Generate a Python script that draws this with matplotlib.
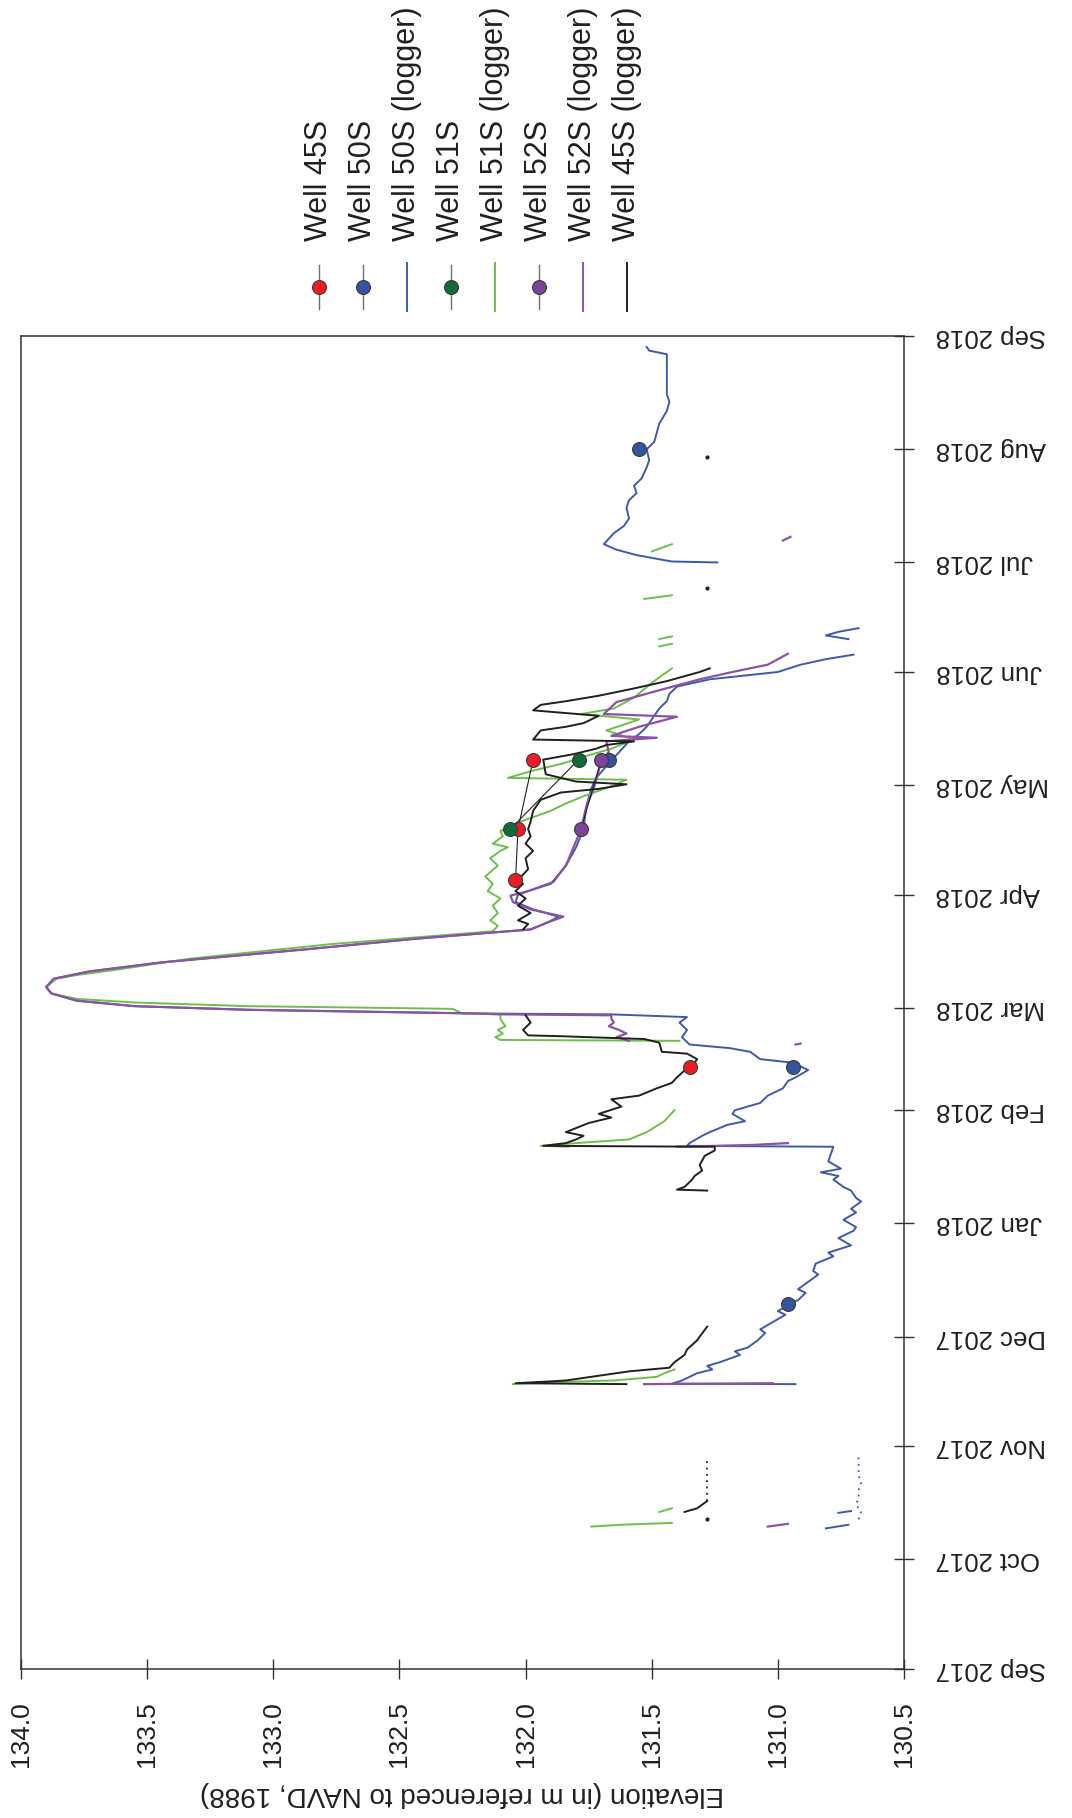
"""Well water levels, Sep 2017 - Sep 2018 (figure drawn rotated, as in the report page)."""

import numpy as np
import pandas as pd
import matplotlib

matplotlib.use("Agg")
import matplotlib.pyplot as plt
from matplotlib.lines import Line2D

plt.rcParams["font.family"] = ["Liberation Sans", "DejaVu Sans"]

# ---- logger records (None = gap in the record) ----
log50_t = ["2017-10-09 12:00", "2017-10-10 12:00", None,
           "2017-10-13 18:00", "2017-10-14 06:00", None,
           "2017-11-18 00:00", "2017-11-18 03:00", "2017-11-19", "2017-11-21", "2017-11-22", "2017-11-23",
           "2017-11-24", "2017-11-25", "2017-11-26", "2017-11-27", "2017-11-28", "2017-11-30", "2017-12-02",
           "2017-12-03", "2017-12-05", "2017-12-07", "2017-12-08", "2017-12-10", "2017-12-11", "2017-12-13",
           "2017-12-14", "2017-12-16", "2017-12-18", "2017-12-19", "2017-12-21", "2017-12-23", "2017-12-24",
           "2017-12-26", "2017-12-28", "2017-12-30", "2017-12-31", "2018-01-02", "2018-01-04", "2018-01-05",
           "2018-01-07", "2018-01-08", "2018-01-10", "2018-01-11", "2018-01-13", "2018-01-14", "2018-01-15",
           "2018-01-16", "2018-01-18", "2018-01-20", "2018-01-22 00:00", "2018-01-22 06:00", "2018-01-23",
           "2018-01-25", "2018-01-26", "2018-01-28", "2018-01-29", "2018-01-31", "2018-02-01", "2018-02-03",
           "2018-02-05", "2018-02-07", "2018-02-09", "2018-02-10", "2018-02-12", "2018-02-14", "2018-02-15",
           "2018-02-17", "2018-02-18", "2018-02-19", "2018-02-21", "2018-02-23", "2018-02-25", "2018-02-26 12:00",
           "2018-02-27 06:00", "2018-02-27 12:00", "2018-02-28 12:00", "2018-03-01 12:00", "2018-03-03",
           "2018-03-05", "2018-03-06 18:00", "2018-03-09", "2018-03-11", "2018-03-13 12:00", "2018-03-17",
           "2018-03-20", "2018-03-22 12:00", "2018-03-24 12:00", "2018-03-26", "2018-03-28", "2018-03-30",
           "2018-04-01", "2018-04-02", "2018-04-04", "2018-04-09", "2018-04-14", "2018-04-19", "2018-04-25",
           "2018-04-30", "2018-05-03", "2018-05-07", "2018-05-10", "2018-05-13", "2018-05-15", "2018-05-17",
           "2018-05-19", "2018-05-22", "2018-05-24", "2018-05-26", "2018-05-28", "2018-05-30", "2018-06-01",
           "2018-06-03", "2018-06-04 12:00", "2018-06-05 18:00", None,
           "2018-06-10", "2018-06-11", "2018-06-12", "2018-06-13", None,
           "2018-07-01 00:00", "2018-07-01 06:00", "2018-07-03", "2018-07-04 12:00", "2018-07-06",
           "2018-07-07 12:00", "2018-07-09", "2018-07-11", "2018-07-13", "2018-07-16", "2018-07-18",
           "2018-07-20", "2018-07-22", "2018-07-24", "2018-07-27", "2018-07-29", "2018-08-01", "2018-08-03",
           "2018-08-05 12:00", "2018-08-08", "2018-08-11 12:00", "2018-08-14", "2018-08-16", "2018-08-20",
           "2018-08-23", "2018-08-27", "2018-08-28", "2018-08-29"]
log50_v = [130.81, 130.72, None,
           130.76, 130.71, None,
           130.93, 131.42, 131.38, 131.32, 131.26, 131.28,
           131.23, 131.19, 131.15, 131.17, 131.12, 131.08, 131.05,
           131.07, 131.02, 130.97, 131.00, 130.95, 130.92, 130.89,
           130.92, 130.88, 130.84, 130.86, 130.85, 130.78, 130.80,
           130.71, 130.76, 130.70, 130.69, 130.74, 130.69, 130.71,
           130.67, 130.69, 130.71, 130.74, 130.78, 130.76, 130.83,
           130.75, 130.80, 130.79, 130.78, 131.36, 131.35,
           131.30, 131.27, 131.20, 131.13, 131.18, 131.17, 131.07,
           131.04, 130.98, 130.96, 130.93, 130.88, 130.94, 131.07,
           131.11, 131.19, 131.35, 131.38, 131.36, 131.39, 131.36,
           131.66, 132.20, 133.10, 133.55, 133.78,
           133.88, 133.90, 133.87, 133.73, 133.44, 132.88,
           132.43, 131.98, 131.91, 131.87, 131.97, 132.04,
           132.03, 131.99, 131.90, 131.84, 131.80, 131.77, 131.76,
           131.74, 131.72, 131.67, 131.63, 131.59, 131.55, 131.52,
           131.50, 131.47, 131.44, 131.43, 131.40, 131.27, 131.00,
           130.91, 130.81, 130.70, None,
           130.72, 130.81, 130.76, 130.68, None,
           131.24, 131.42, 131.56, 131.64, 131.69,
           131.67, 131.65, 131.61, 131.59, 131.60, 131.59,
           131.56, 131.57, 131.54, 131.52, 131.51, 131.52, 131.49,
           131.48, 131.47, 131.44, 131.43, 131.44, 131.44,
           131.44, 131.44, 131.51, 131.52]
log50_dot_t = ["2017-10-12", "2017-10-14", "2017-10-16", "2017-10-18", "2017-10-20", "2017-10-22",
               "2017-10-24", "2017-10-26", "2017-10-29"]
log50_dot_v = [130.68, 130.67, 130.69, 130.68, 130.68, 130.67, 130.68, 130.68, 130.68]

log51_t = ["2017-10-10 00:00", "2017-10-10 12:00", "2017-10-11", None,
           "2017-10-14", "2017-10-15", None,
           "2017-11-18 00:00", "2017-11-18 12:00", "2017-11-19", "2017-11-20", "2017-11-21", "2017-11-22", None,
           "2018-01-22 00:00", "2018-01-22 06:00", "2018-01-23", "2018-01-24", "2018-01-26", "2018-01-29",
           "2018-02-01", None,
           "2018-02-20 00:00", "2018-02-20 06:00", "2018-02-21", "2018-02-22", "2018-02-23", "2018-02-24",
           "2018-02-26", "2018-02-27 06:00", "2018-02-27 12:00", "2018-02-28 18:00", "2018-03-01 00:00",
           "2018-03-01 12:00", "2018-03-02 12:00", "2018-03-03 12:00", "2018-03-05", "2018-03-06 18:00",
           "2018-03-09", "2018-03-10", "2018-03-11 12:00", "2018-03-14 12:00", "2018-03-18 12:00", "2018-03-22",
           "2018-03-23 12:00", "2018-03-25", "2018-03-27", "2018-03-29", "2018-03-31", "2018-04-02",
           "2018-04-04", "2018-04-06", "2018-04-09", "2018-04-11", "2018-04-13", "2018-04-14", "2018-04-15",
           "2018-04-17", "2018-04-18 12:00", "2018-04-20", "2018-04-21", "2018-04-24", "2018-04-26",
           "2018-04-28", "2018-05-01", "2018-05-02 12:00", "2018-05-03 00:00", "2018-05-05", "2018-05-07",
           "2018-05-09", "2018-05-11", "2018-05-13 12:00", "2018-05-16", "2018-05-19", "2018-05-20 12:00",
           "2018-05-22", "2018-05-25", "2018-05-29", "2018-06-02", None,
           "2018-06-08 00:00", "2018-06-08 18:00", None,
           "2018-06-10 00:00", "2018-06-10 18:00", None,
           "2018-06-21", "2018-06-22", None,
           "2018-07-04", "2018-07-06"]
log51_v = [131.74, 131.62, 131.42, None,
           131.47, 131.42, None,
           132.05, 131.92, 131.65, 131.48, 131.45, 131.41, None,
           131.83, 131.94, 131.80, 131.59, 131.52, 131.45,
           131.41, None,
           131.39, 132.10, 132.12, 132.09, 132.11, 132.08,
           132.10, 132.10, 132.25, 132.29, 132.54,
           133.10, 133.55, 133.78, 133.88, 133.90,
           133.86, 133.78, 133.62, 133.33, 132.77, 132.13,
           132.11, 132.14, 132.11, 132.13, 132.10, 132.15,
           132.13, 132.16, 132.11, 132.14, 132.10, 132.07, 132.13,
           132.09, 132.10, 132.04, 132.02, 131.90, 131.84,
           131.77, 131.65, 131.60, 132.07, 131.97, 131.85,
           131.76, 131.66, 131.57, 131.68, 131.55, 131.78,
           131.65, 131.57, 131.50, 131.42, None,
           131.47, 131.42, None,
           131.47, 131.42, None,
           131.53, 131.42, None,
           131.50, 131.42]

log52_t = ["2017-10-10 00:00", "2017-10-10 18:00", None,
           "2017-11-18 00:00", "2017-11-18 06:00", None,
           "2018-01-22 00:00", "2018-01-22 12:00", "2018-01-23", None,
           "2018-02-19 00:00", "2018-02-19 06:00", None,
           "2018-02-20", "2018-02-21", "2018-02-22", "2018-02-23", "2018-02-24", "2018-02-25", "2018-02-26",
           "2018-02-27 00:00", "2018-02-27 06:00", "2018-02-27 12:00", "2018-02-28 12:00", "2018-03-01 12:00",
           "2018-03-03", "2018-03-05", "2018-03-06 18:00", "2018-03-09", "2018-03-11", "2018-03-13 12:00",
           "2018-03-17", "2018-03-20", "2018-03-22 12:00", "2018-03-24 12:00", "2018-03-26", "2018-03-28",
           "2018-03-30", "2018-03-31 18:00", "2018-04-02", "2018-04-04 12:00", "2018-04-09", "2018-04-14",
           "2018-04-19", "2018-04-25", "2018-04-30", "2018-05-05", "2018-05-08", "2018-05-10", "2018-05-13",
           "2018-05-14 00:00", "2018-05-14 12:00", "2018-05-17", "2018-05-19 18:00", "2018-05-20 12:00",
           "2018-05-23 18:00", "2018-05-27", "2018-05-30", "2018-06-01", "2018-06-03", "2018-06-06", None,
           "2018-07-07", "2018-07-08"]
log52_v = [131.04, 130.96, None,
           131.53, 131.02, None,
           131.40, 131.10, 130.96, None,
           130.93, 130.91, None,
           131.59, 131.64, 131.60, 131.63, 131.67, 131.65, 131.66,
           131.66, 132.09, 132.20, 133.10, 133.55,
           133.78, 133.88, 133.90, 133.87, 133.73, 133.44,
           132.88, 132.43, 131.98, 131.91, 131.85, 131.98,
           132.05, 132.06, 131.99, 131.89, 131.84, 131.81,
           131.78, 131.76, 131.73, 131.71, 131.70, 131.67, 131.68,
           131.48, 131.66, 131.55, 131.40, 131.69,
           131.64, 131.47, 131.31, 131.18, 131.04, 130.96, None,
           130.98, 130.95]

log45_t = ["2017-10-14", "2017-10-15", "2017-10-17", None,
           "2017-11-18 00:00", "2017-11-18 06:00", "2017-11-19", "2017-11-20", "2017-11-21 12:00",
           "2017-11-22 12:00", "2017-11-24", "2017-11-26", "2017-11-27 12:00", "2017-11-30", "2017-12-01",
           "2017-12-03 18:00", None,
           "2018-01-10 00:00", "2018-01-10 06:00", "2018-01-11", "2018-01-13", "2018-01-14", "2018-01-15 12:00",
           "2018-01-17", "2018-01-19 12:00", "2018-01-21", "2018-01-22 00:00", "2018-01-22 06:00", "2018-01-23",
           "2018-01-24", "2018-01-25", "2018-01-26", "2018-01-28 12:00", "2018-01-30", "2018-01-31",
           "2018-02-02", "2018-02-04", "2018-02-05", "2018-02-07", "2018-02-08 12:00", "2018-02-10",
           "2018-02-12 12:00", "2018-02-14", "2018-02-15", "2018-02-16 12:00", "2018-02-17", "2018-02-19 12:00",
           "2018-02-20 12:00", "2018-02-21 00:00", "2018-02-21 06:00", "2018-02-21 12:00", "2018-02-23",
           "2018-02-25", "2018-02-27", None,
           "2018-03-22 12:00", "2018-03-24", "2018-03-25", "2018-03-27", "2018-03-29", "2018-03-31",
           "2018-04-02", "2018-04-04", "2018-04-05", "2018-04-08", "2018-04-11", "2018-04-13", "2018-04-15",
           "2018-04-17", "2018-04-19", "2018-04-21", "2018-04-24", "2018-04-27", "2018-04-29", "2018-04-30",
           "2018-05-01 06:00", "2018-05-02", "2018-05-04", "2018-05-08", "2018-05-09 12:00", "2018-05-11",
           "2018-05-12", "2018-05-13", "2018-05-13 12:00", "2018-05-16", "2018-05-17", "2018-05-18",
           "2018-05-20", "2018-05-21 12:00", "2018-05-23", "2018-05-24", "2018-05-25 12:00", "2018-05-27 12:00",
           "2018-05-29 12:00", "2018-06-01", "2018-06-02"]
log45_v = [131.37, 131.32, 131.28, None,
           131.60, 132.04, 131.84, 131.74, 131.59,
           131.43, 131.41, 131.37, 131.36, 131.32, 131.31,
           131.28, None,
           131.28, 131.40, 131.37, 131.34, 131.33, 131.30,
           131.31, 131.29, 131.25, 131.25, 131.93, 131.84,
           131.80, 131.77, 131.84, 131.75, 131.66, 131.71,
           131.62, 131.66, 131.55, 131.48, 131.42, 131.40,
           131.36, 131.33, 131.32, 131.36, 131.46, 131.47,
           131.53, 131.75, 131.85, 131.99, 132.01,
           131.98, 132.00, None,
           132.01, 131.99, 132.03, 131.98, 132.03, 132.00,
           132.04, 132.01, 132.03, 131.99, 132.00, 131.97, 132.00,
           131.98, 131.99, 131.98, 131.97, 131.94, 131.86, 131.71,
           131.60, 131.80, 131.92, 131.93, 131.81, 131.72,
           131.68, 131.57, 131.97, 131.94, 131.84, 131.77,
           131.71, 131.97, 131.94, 131.84, 131.71, 131.57,
           131.44, 131.31, 131.27]
log45_dot_t = ["2017-10-17", "2017-10-19", "2017-10-21", "2017-10-23", "2017-10-25", "2017-10-27", "2017-10-29"]
log45_dot_v = [131.28, 131.28, 131.28, 131.28, 131.28, 131.28, 131.28]
# isolated single logger readings
log45_pt_t = ["2017-10-12", "2018-06-24", "2018-07-30"]
log45_pt_v = [131.28, 131.28, 131.28]

# ---- manual measurements ----
w45_t = ["2018-02-12 18:00", None, "2018-04-05", "2018-04-19", "2018-05-08"]
w45_v = [131.35, None, 132.04, 132.03, 131.97]
w50_t = ["2017-12-10", "2018-02-12 18:00", "2018-05-08", "2018-08-01"]
w50_v = [130.96, 130.94, 131.67, 131.55]
w51_t = ["2018-04-19", "2018-05-08"]
w51_v = [132.06, 131.79]
w52_t = ["2018-04-19", "2018-05-08"]
w52_v = [131.78, 131.70]

legend_labels = ["Well 45S", "Well 50S", "Well 50S (logger)", "Well 51S", "Well 51S (logger)",
                 "Well 52S", "Well 52S (logger)", "Well 45S (logger)"]
month_ticks = pd.date_range("2017-09-01", "2018-09-01", freq="MS")
elev_ticks = np.arange(130.5, 134.01, 0.5)

C_RED = "#ec1c24"
C_BLUE = "#3554a0"
C_BLUE_L = "#3d5bab"
C_GREEN = "#126b37"
C_GREEN_L = "#6cc04a"
C_PURPLE = "#7d4398"
C_PURPLE_L = "#8c52a3"
C_BLACK = "#231f20"
C_GRAY = "#6d6e71"


def series(times, values):
    t, v = [], []
    last = None
    for ti, vi in zip(times, values):
        if ti is None:
            t.append(last)
            v.append(np.nan)
        else:
            last = pd.Timestamp(ti)
            t.append(last)
            v.append(vi)
    return np.array(v, dtype=float), pd.to_datetime(t)


fig = plt.figure(figsize=(10.72, 18.18), dpi=100)
ax = fig.add_axes([21 / 1072, (1818 - 1669) / 1818, 883 / 1072, 1333 / 1818])

lw = 1.4
ax.plot(*series(log50_t, log50_v), color=C_BLUE_L, lw=lw, zorder=2)
ax.plot(*series(log50_dot_t, log50_dot_v), color=C_BLUE_L, lw=1.3, ls=(0, (1, 2.5)), zorder=2)
ax.plot(*series(log51_t, log51_v), color=C_GREEN_L, lw=lw, zorder=3)
ax.plot(*series(log52_t, log52_v), color=C_PURPLE_L, lw=lw + 0.2, zorder=4)
ax.plot(*series(log45_t, log45_v), color=C_BLACK, lw=lw, zorder=5)
ax.plot(*series(log45_dot_t, log45_dot_v), color=C_BLACK, lw=1.3, ls=(0, (1, 2.5)), zorder=5)
ax.plot(*series(log45_pt_t, log45_pt_v), ls="none", marker="o", markersize=2, color=C_BLACK, zorder=5)

mk = dict(marker="o", markersize=10, markeredgecolor="#3a3a3a", markeredgewidth=0.8, zorder=6)
ax.plot(*series(w45_t, w45_v), color=C_BLACK, lw=0.8, markerfacecolor=C_RED, **mk)
ax.plot(*series(w50_t, w50_v), ls="none", markerfacecolor=C_BLUE, **mk)
ax.plot(*series(w51_t, w51_v), color=C_BLACK, lw=0.8, markerfacecolor=C_GREEN, **mk)
ax.plot(*series(w52_t, w52_v), color=C_BLACK, lw=0.8, markerfacecolor=C_PURPLE, **mk)

ax.set_xlim(134.0, 130.5)
ax.set_ylim(month_ticks[0], month_ticks[-1])
ax.set_xticks(elev_ticks)
ax.set_xticklabels([f"{e:.1f}" for e in elev_ticks], rotation=90, fontsize=19)
ax.set_yticks(month_ticks)
ax.set_yticklabels([d.strftime("%b %Y") for d in month_ticks], rotation=180, fontsize=18.5, va="center")
ax.yaxis.tick_right()
ax.tick_params(axis="both", direction="inout", length=14, width=1.0, pad=16, color="#333333",
               labelcolor="#231f20")
ax.tick_params(axis="y", left=False, right=True, labelleft=False, labelright=True)
ax.tick_params(axis="x", top=False, bottom=True)
for sp in ax.spines.values():
    sp.set_color("#333333")
    sp.set_linewidth(1.1)

# overlay in pixel coordinates for the rotated legend and axis title
lax = fig.add_axes([0, 0, 1, 1], zorder=10)
lax.set_xlim(0, 1072)
lax.set_ylim(1818, 0)
lax.axis("off")
lax.patch.set_alpha(0)

lax.text(462, 1794, "Elevation (in m referenced to NAVD, 1988)", rotation=180, ha="center",
         va="center", fontsize=20, color="#231f20")

legend_style = [
    ("m", C_RED), ("m", C_BLUE), ("l", C_BLUE_L), ("m", C_GREEN),
    ("l", C_GREEN_L), ("m", C_PURPLE), ("l", C_PURPLE_L), ("l", C_BLACK),
]
for i, (label, (kind, col)) in enumerate(zip(legend_labels, legend_style)):
    x = 319 + i * 44.0
    if kind == "m":
        lax.add_line(Line2D([x, x], [265, 309], color=C_GRAY, lw=1.0))
        lax.plot([x], [287], marker="o", markersize=10, markerfacecolor=col,
                 markeredgecolor="#3a3a3a", markeredgewidth=0.8)
    else:
        lax.add_line(Line2D([x, x], [263, 311], color=col, lw=1.4))
    lax.text(x, 241, label, rotation=90, ha="center", va="bottom", fontsize=22, color="#231f20")

fig.savefig("out.png", dpi=100)
